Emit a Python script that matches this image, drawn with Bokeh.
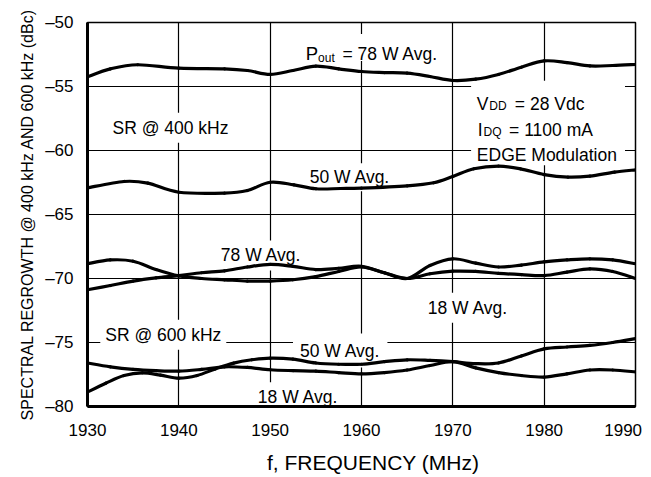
from bokeh.plotting import figure
from bokeh.models import FixedTicker, Label, BoxAnnotation, Range1d
from bokeh.embed import file_html
from bokeh.resources import INLINE

# ---------------- data ----------------
freq_ticks = [1930, 1940, 1950, 1960, 1970, 1980, 1990]
sr_ticks = [-80, -75, -70, -65, -60, -55, -50]
sr_tick_labels = ["\u201380", "\u201375", "\u201370", "\u201365", "\u201360", "\u201355", "\u201350"]

# SR @ 400 kHz, Pout = 78 W Avg.
f_400_78w = [1930, 1932.5, 1935.5, 1940, 1945, 1947.5, 1950, 1952.5, 1955, 1957.5, 1960,
             1962.5, 1965, 1967.5, 1970, 1972.5, 1975, 1977.5, 1980, 1982.5, 1985, 1987.5, 1990]
sr_400_78w = [-54.24, -53.62, -53.30, -53.57, -53.62, -53.75, -54.06, -53.75, -53.41, -53.62, -53.83,
              -53.91, -53.96, -54.22, -54.53, -54.43, -54.06, -53.49, -53.00, -53.13, -53.39, -53.36, -53.28]

# SR @ 400 kHz, 50 W Avg.
f_400_50w = [1930, 1934, 1936.6, 1940, 1945, 1947.5, 1950, 1952.6, 1955, 1957.7, 1960,
             1965, 1967.9, 1970, 1972.3, 1975, 1977.4, 1980, 1982.6, 1985, 1987.7, 1990]
sr_400_50w = [-62.92, -62.42, -62.55, -63.26, -63.33, -63.13, -62.48, -62.68, -62.99, -62.97, -62.94,
              -62.76, -62.52, -62.03, -61.43, -61.22, -61.43, -61.88, -62.08, -62.00, -61.69, -61.51]

# SR @ 600 kHz, 78 W Avg.
f_600_78w = [1930, 1932.5, 1935, 1937.5, 1940, 1942.5, 1945, 1947.5, 1950, 1952.5, 1955, 1957.5,
             1960, 1962.5, 1965, 1967.5, 1970, 1972.5, 1975, 1977.5, 1980, 1982.5, 1985, 1987.5, 1990]
sr_600_78w = [-70.88, -70.55, -70.20, -69.95, -69.77, -69.55, -69.40, -69.10, -68.90, -69.05, -69.30, -69.20,
              -69.05, -69.55, -70.00, -68.98, -68.46, -68.80, -69.10, -68.95, -68.70, -68.55, -68.46, -68.55, -68.85]

# SR @ 600 kHz, 18 W Avg.
f_600_18w = [1930, 1932.5, 1935, 1937.5, 1940, 1942.5, 1945, 1947.5, 1950, 1952.5, 1955, 1957.5,
             1960, 1962.5, 1965, 1967.5, 1970, 1972.5, 1975, 1977.5, 1980, 1982.5, 1985, 1987.5, 1990]
sr_600_18w = [-68.85, -68.55, -68.65, -69.30, -69.80, -70.00, -70.10, -70.20, -70.20, -70.10, -69.85, -69.45,
              -69.10, -69.55, -70.00, -69.63, -69.43, -69.45, -69.60, -69.70, -69.77, -69.50, -69.25, -69.45, -70.00]

# SR @ 600 kHz, lower pair
f_600_50w = [1930, 1932, 1934, 1936, 1938, 1940, 1942, 1944, 1946, 1948, 1950, 1952.5, 1955, 1957.5,
             1960, 1962.5, 1965, 1967.5, 1970, 1972.5, 1975, 1977.5, 1980, 1982.5, 1985, 1987.5, 1990]
sr_600_50w = [-78.88, -78.18, -77.58, -77.37, -77.55, -77.79, -77.58, -77.06, -76.61, -76.35, -76.22, -76.30,
              -76.60, -76.70, -76.70, -76.50, -76.35, -76.40, -76.50, -76.65, -76.60, -76.05, -75.50, -75.35,
              -75.23, -75.00, -74.70]

f_600_18w_low = [1930, 1932.5, 1935, 1937.5, 1940, 1942.5, 1945, 1947.5, 1950, 1952.5, 1955, 1957.5,
                 1960, 1962.5, 1965, 1967.5, 1970, 1972.5, 1975, 1977.5, 1980, 1982.5, 1985, 1987.5, 1990]
sr_600_18w_low = [-76.60, -76.90, -77.10, -77.20, -77.24, -77.10, -76.90, -76.95, -77.13, -77.20, -77.24, -77.35,
                  -77.45, -77.35, -77.15, -76.80, -76.50, -76.98, -77.35, -77.58, -77.70, -77.45, -77.15, -77.15, -77.30]

curves = [
    (f_400_78w, sr_400_78w),
    (f_400_50w, sr_400_50w),
    (f_600_78w, sr_600_78w),
    (f_600_18w, sr_600_18w),
    (f_600_50w, sr_600_50w),
    (f_600_18w_low, sr_600_18w_low),
]

# ---------------- styling ----------------
FONT = "Liberation Sans"
LBL = "17.5px"
SUB = "12px"
NB = "\u00a0"

p = figure(width=651, height=477, output_backend="svg", toolbar_location=None,
           x_range=Range1d(1930, 1990), y_range=Range1d(-80, -50),
           min_border_left=87, min_border_right=16, min_border_top=22, min_border_bottom=71)

p.background_fill_color = "white"
p.border_fill_color = "white"
p.outline_line_color = "black"
p.outline_line_width = 1.5

for ax in (p.xaxis, p.yaxis):
    ax.axis_line_width = 3
    ax.axis_line_color = "black"
    ax.major_tick_line_color = None
    ax.minor_tick_line_color = None
    ax.major_label_text_font = FONT
    ax.major_label_text_font_size = "17px"
    ax.major_label_text_color = "black"
    ax.axis_label_text_font_style = "normal"
    ax.axis_label_text_color = "black"
    ax.axis_label_text_font = FONT

p.xaxis.ticker = FixedTicker(ticks=freq_ticks)
p.yaxis.ticker = FixedTicker(ticks=sr_ticks)
p.yaxis.major_label_overrides = {t: s for t, s in zip(sr_ticks, sr_tick_labels)}
p.xaxis.major_label_overrides = {freq_ticks[-1]: str(freq_ticks[-1]) + NB * 2}
p.xaxis.major_label_standoff = 8
p.yaxis.major_label_standoff = 8

p.xaxis.axis_label = NB * 4 + "f, FREQUENCY (MHz)"
p.xaxis.axis_label_text_font_size = "21px"
p.xaxis.axis_label_standoff = 8
p.yaxis.axis_label = "SPECTRAL REGROWTH @ 400 kHz AND 600 kHz (dBc)"
p.yaxis.axis_label_text_font_size = "16px"
p.yaxis.axis_label_standoff = 6

for g in (p.xgrid, p.ygrid):
    g.grid_line_color = "black"
    g.grid_line_width = 1.2


def smooth_segments(xs, ys):
    """Cubic Bezier segments through the read points (Catmull-Rom tangents), for drawing only."""
    n = len(xs)
    seg = {k: [] for k in ("x0", "y0", "x1", "y1", "cx0", "cy0", "cx1", "cy1")}
    for i in range(n - 1):
        xm, ym = (xs[i - 1], ys[i - 1]) if i > 0 else (xs[i], ys[i])
        xp, yp = (xs[i + 2], ys[i + 2]) if i + 2 < n else (xs[i + 1], ys[i + 1])
        seg["x0"].append(xs[i]); seg["y0"].append(ys[i])
        seg["x1"].append(xs[i + 1]); seg["y1"].append(ys[i + 1])
        seg["cx0"].append(xs[i] + (xs[i + 1] - xm) / 6.0)
        seg["cy0"].append(ys[i] + (ys[i + 1] - ym) / 6.0)
        seg["cx1"].append(xs[i + 1] - (xp - xs[i]) / 6.0)
        seg["cy1"].append(ys[i + 1] - (yp - ys[i]) / 6.0)
    return seg


for fx, sy in curves:
    s = smooth_segments(fx, sy)
    p.bezier(x0=s["x0"], y0=s["y0"], x1=s["x1"], y1=s["y1"],
             cx0=s["cx0"], cy0=s["cy0"], cx1=s["cx1"], cy1=s["cy1"],
             line_color="black", line_width=3.2, line_cap="round")


def plain(x, y, text, size=LBL, bg=True, pad=5):
    kw = dict(x=x, y=y, text=text, text_font=FONT, text_font_size=size, text_color="black",
              text_align="left", text_baseline="alphabetic", level="underlay")
    if bg:
        kw.update(background_fill_color="white", padding=pad)
    p.add_layout(Label(**kw))


def box(l, r, t, b):
    p.add_layout(BoxAnnotation(left=l, right=r, top=t, bottom=b, fill_color="white", fill_alpha=1.0,
                               line_color=None, level="underlay"))


# Pout = 78 W Avg.
box(1953.4, 1968.5, -50.9, -53.0)
plain(1953.90, -52.45, "P", size="18.5px", bg=False)
plain(1955.25, -52.75, "out", size=SUB, bg=False)
plain(1957.92, -52.45, "= 78 W Avg.", bg=False)

plain(1932.19, -58.23, "SR @ 400 kHz")
plain(1953.90, -62.09, "50 W Avg.", pad=4)

# conditions block
box(1972.0, 1988.85, -54.55, -61.15)
plain(1972.63, -56.35, "V", bg=False)
plain(1974.00, -56.56, "DD", size=SUB, bg=False)
plain(1976.79, -56.35, "= 28 Vdc", bg=False)
plain(1972.74, -58.38, "I", bg=False)
plain(1973.36, -58.59, "DQ", size=SUB, bg=False)
plain(1976.16, -58.38, "= 1100 mA", bg=False)
plain(1972.63, -60.39, "EDGE Modulation", bg=False)

plain(1944.05, -68.20, "78 W Avg.")
plain(1966.70, -72.29, "18 W Avg.")
plain(1931.40, -74.40, "SR @ 600 kHz")
plain(1952.50, -75.63, "50 W Avg.", pad=7)
plain(1948.10, -79.27, "18 W Avg.")

open("out.html", "w").write(file_html(p, INLINE))
